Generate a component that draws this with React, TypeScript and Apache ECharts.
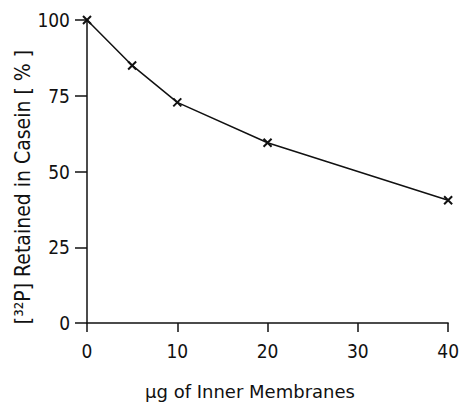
import React, { useEffect, useRef } from "react";
import * as echarts from "echarts";

const xValues = [0, 5, 10, 20, 40];
const retained = [100, 85, 72.8, 59.5, 40.5];
const yTicks = [0, 25, 50, 75, 100];
const xTitle = "μg of Inner Membranes";
const yTitle = "[³²P] Retained in Casein [ % ]";

const FONT = "DejaVu Sans Condensed";

export default function App() {
  const ref = useRef<HTMLDivElement>(null);
  useEffect(() => {
    document.body.style.margin = "0";
    const chart = echarts.init(ref.current!, null, { renderer: "svg" });
    chart.setOption({
      animation: false,
      backgroundColor: "#fff",
      grid: { left: 87, right: 12, top: 20, bottom: 80, containLabel: false },
      graphic: [
        {
          type: "text",
          x: 23,
          y: 187,
          rotation: Math.PI / 2,
          style: {
            text: yTitle,
            fontFamily: FONT,
            fontSize: 21,
            fill: "#111",
            align: "center",
            verticalAlign: "middle",
          },
        },
        {
          type: "text",
          x: 250,
          y: 391,
          style: {
            text: xTitle,
            fontFamily: "DejaVu Sans",
            fontSize: 18,
            fill: "#111",
            align: "center",
            verticalAlign: "middle",
          },
        },
      ],
      xAxis: {
        type: "value",
        min: 0,
        max: 40,
        interval: 10,
        axisLine: { lineStyle: { color: "#111", width: 1.5 } },
        axisTick: { length: 9, lineStyle: { color: "#111", width: 1.5 } },
        axisLabel: { fontFamily: FONT, fontSize: 19, color: "#111", margin: 18 },
        splitLine: { show: false },
      },
      yAxis: {
        type: "value",
        min: 0,
        max: 100,
        interval: 25,
        axisLine: { lineStyle: { color: "#111", width: 1.5 } },
        axisTick: { length: 12, lineStyle: { color: "#111", width: 1.5 } },
        axisLabel: {
          fontFamily: FONT,
          fontSize: 19,
          color: "#111",
          margin: 17,
          formatter: (v: number) => (yTicks.includes(v) ? String(v) : ""),
        },
        splitLine: { show: false },
      },
      series: [
        {
          type: "line",
          data: xValues.map((x, i) => [x, retained[i]]),
          lineStyle: { color: "#111", width: 1.5 },
          symbol: "path://M0,0L10,10M10,0L0,10",
          symbolSize: 8,
          itemStyle: { color: "none", borderColor: "#111", borderWidth: 2 },
        },
      ],
    });
    return () => chart.dispose();
  }, []);
  return <div ref={ref} style={{ width: 462, height: 403 }} />;
}
